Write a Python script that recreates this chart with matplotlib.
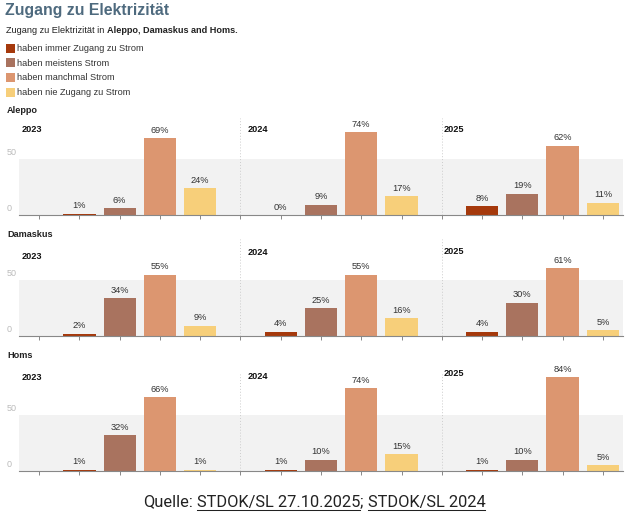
import matplotlib
matplotlib.use("Agg")
import matplotlib.pyplot as plt
from matplotlib.patches import Rectangle
from matplotlib.lines import Line2D

# ---------------- data ----------------
categories = ["haben immer Zugang zu Strom", "haben meistens Strom",
              "haben manchmal Strom", "haben nie Zugang zu Strom"]
years = ["2023", "2024", "2025"]
cities = ["Aleppo", "Damaskus", "Homs"]
aleppo = [[1, 6, 69, 24], [0, 9, 74, 17], [8, 19, 62, 11]]
damaskus = [[2, 34, 55, 9], [4, 25, 55, 16], [4, 30, 61, 5]]
homs = [[1, 32, 66, 1], [1, 10, 74, 15], [1, 10, 84, 5]]
city_values = [aleppo, damaskus, homs]

title = "Zugang zu Elektrizität"
subtitle_regular = "Zugang zu Elektrizität in"
subtitle_bold = "Aleppo, Damaskus and Homs."
source_prefix = "Quelle:"
source_links = ["STDOK/SL 27.10.2025", "STDOK/SL 2024"]

colors = ["#a5390c", "#a9735f", "#dc9670", "#f7cf7a"]

# ---------------- figure ----------------
W, H = 640, 518
fig = plt.figure(figsize=(W / 100, H / 100), dpi=100)
FONT = "Liberation Sans"


def fx(x):
    return x / W


def fy(y):
    return 1 - y / H


renderer = fig.canvas.get_renderer()


def twidth(s, **kw):
    t = fig.text(0, 0, s, **kw)
    bb = t.get_window_extent(renderer)
    t.remove()
    return bb.width


def seq_text(parts, x0, y, ha="left", underline_color=None, ul_offset=2.5, **kw):
    """parts: list of (text, props, underline) ; ' ' string means a space gap"""
    space = twidth("a a", **kw) - twidth("aa", **kw)
    widths = []
    for p in parts:
        if p == " ":
            widths.append(space)
        else:
            k = dict(kw)
            k.update(p[1])
            widths.append(twidth(p[0], **k))
    total = sum(widths)
    x = x0 - total / 2 if ha == "center" else x0
    for p, w in zip(parts, widths):
        if p != " ":
            k = dict(kw)
            k.update(p[1])
            fig.text(fx(x), fy(y), p[0], ha="left", va="baseline", **k)
            if p[2]:
                fig.add_artist(Line2D([fx(x), fx(x + w)], [fy(y + ul_offset)] * 2,
                                      color=underline_color, lw=0.75))
        x += w


# title
fig.text(fx(5), fy(15), title, fontsize=11.4, fontweight="bold",
         color="#4e6a7e", family=FONT, va="baseline", ha="left")

# subtitle
seq_text([(subtitle_regular, {}, False), " ", (subtitle_bold, {"fontweight": "bold"}, False)],
         6, 33, fontsize=6.6, family=FONT, color="#222222")

# legend
leg_base = [51, 65.7, 80.3, 95]
for cat, col, yb in zip(categories, colors, leg_base):
    fig.add_artist(Rectangle((fx(6), fy(yb + 1.5)), 9 / W, 9 / H,
                             transform=fig.transFigure, color=col, lw=0))
    fig.text(fx(17), fy(yb), cat, fontsize=6.6, family=FONT, color="#333333",
             va="baseline", ha="left")

# panels
row_label_base = [112.7, 236.7, 357.7]
row_baseline = [215, 336, 471]
year_base = [[132, 132.5, 132.3], [259, 255.3, 254.3], [380.3, 379.3, 376]]
year_xpx = [22, 248, 444]
ax_left, ax_right = 19, 623
ax_h = 97

for r, city in enumerate(cities):
    fig.text(fx(7), fy(row_label_base[r]), city, fontsize=6.6, fontweight="bold",
             family=FONT, color="#222222", va="baseline", ha="left")
    bottom = row_baseline[r]
    ax = fig.add_axes([fx(ax_left), (H - bottom) / H, (ax_right - ax_left) / W, ax_h / H])
    ax.set_xlim(-0.5, 14.5)
    ax.set_ylim(0, 87)
    ax.axhspan(0, 50, color="#f2f2f2", zorder=0, lw=0)
    for j, yr in enumerate(years):
        vals = city_values[r][j]
        xs = [5 * j + 1 + i for i in range(len(vals))]
        ax.bar(xs, vals, width=0.8, color=colors, zorder=2, lw=0)
        for xv, v in zip(xs, vals):
            ax.annotate(f"{v}%", (xv, v), xytext=(0, 2.5), textcoords="offset points",
                        ha="center", va="bottom", fontsize=6.7, family=FONT,
                        color="#333333")
        fig.text(fx(year_xpx[j]), fy(year_base[r][j]), yr, fontsize=6.6,
                 fontweight="bold", family=FONT, color="#111111",
                 va="baseline", ha="left")
    for xd in (5, 10):
        ax.axvline(xd, color="#cccccc", lw=0.7, ls=(0, (1, 2)), zorder=1)
    # y labels
    ax.annotate("50", (-0.5, 50), xytext=(-8.8, 1.5), textcoords="offset points",
                ha="left", va="bottom", fontsize=6.5, family=FONT, color="#bbbbbb",
                annotation_clip=False)
    ax.annotate("0", (-0.5, 0), xytext=(-8.8, 1.5), textcoords="offset points",
                ha="left", va="bottom", fontsize=6.5, family=FONT, color="#bbbbbb",
                annotation_clip=False)
    for s in ("top", "left", "right"):
        ax.spines[s].set_visible(False)
    ax.spines["bottom"].set_color("#888888")
    ax.spines["bottom"].set_linewidth(0.8)
    ax.set_xticks(range(15))
    ax.set_xticklabels([])
    ax.set_yticks([])
    ax.tick_params(axis="x", length=3, width=0.7, color="#888888")
    ax.set_facecolor("none")

# footer
seq_text([(source_prefix, {}, False), " ", (source_links[0], {}, True), (";", {}, False), " ",
          (source_links[1], {}, True)],
         314, 506.5, ha="center", underline_color="#222222", ul_offset=3,
         fontsize=11.8, family="Roboto", color="#222222")

fig.savefig("out.png", dpi=100)
